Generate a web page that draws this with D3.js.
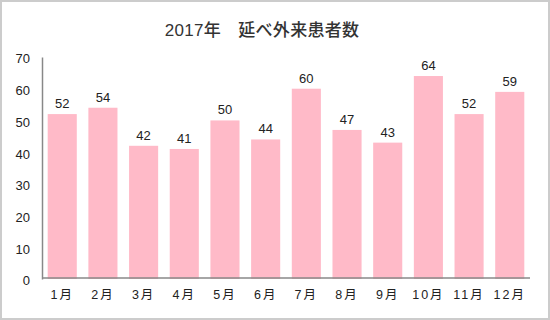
<!DOCTYPE html>
<html><head><meta charset="utf-8">
<script src="https://cdn.jsdelivr.net/npm/d3@7"></script>
<style>
html,body{margin:0;padding:0;background:#fff;}
text{font-family:"Liberation Sans","Noto Sans CJK JP",sans-serif;}
</style></head>
<body><svg id="c" width="550" height="320"></svg>
<script>
const title = "2017年　延べ外来患者数";
const months = ["1月","2月","3月","4月","5月","6月","7月","8月","9月","10月","11月","12月"];
const values = [52,54,42,41,50,44,60,47,43,64,52,59];
const yTicks = [0,10,20,30,40,50,60,70];

const svg = d3.select("#c");
svg.append("rect").attr("x",1).attr("y",1).attr("width",548).attr("height",318)
  .attr("fill","#fff").attr("stroke","#cccccc").attr("stroke-width",2);

const x = d3.scaleBand().domain(months).range([42,530]).paddingInner(0.285).paddingOuter(0.14);
const y = d3.scaleLinear().domain([0,70]).range([279,57]);

svg.append("text").attr("x",262).attr("y",36).attr("text-anchor","middle")
  .attr("font-size",17).attr("font-weight",500).attr("fill","#333").attr("letter-spacing","0.3px")
  .attr("font-family","'Noto Sans CJK JP',sans-serif")
  .text(title);

svg.append("g").selectAll("rect").data(values).join("rect")
  .attr("x",(d,i)=>x(months[i])).attr("width",x.bandwidth())
  .attr("y",d=>y(d)).attr("height",d=>y(0)-y(d)).attr("fill","#ffbac8");

svg.append("g").selectAll("text").data(values).join("text")
  .attr("x",(d,i)=>x(months[i])+x.bandwidth()/2).attr("y",d=>y(d)-6)
  .attr("text-anchor","middle").attr("font-size",13).attr("fill","#222").text(d=>d);

const ya = svg.append("g").attr("transform","translate(42,0)")
  .call(d3.axisLeft(y).tickValues(yTicks).tickSize(0).tickPadding(12));
ya.select(".domain").attr("stroke","#888").attr("stroke-width",1.5);
ya.selectAll("text").attr("font-size",13).attr("fill","#222").attr("font-family","'Liberation Sans',sans-serif").attr("dy","0.45em");

const xa = svg.append("g").attr("transform","translate(0,278)")
  .call(d3.axisBottom(x).tickSize(0).tickPadding(12));
xa.select(".domain").attr("stroke","#888").attr("stroke-width",1.5).attr("d","M42,0H530");
xa.selectAll("text").attr("font-size",12.5).attr("fill","#222").attr("letter-spacing","2px")
  .attr("font-family","'Liberation Sans','Noto Sans CJK JP',sans-serif");
</script></body></html>
